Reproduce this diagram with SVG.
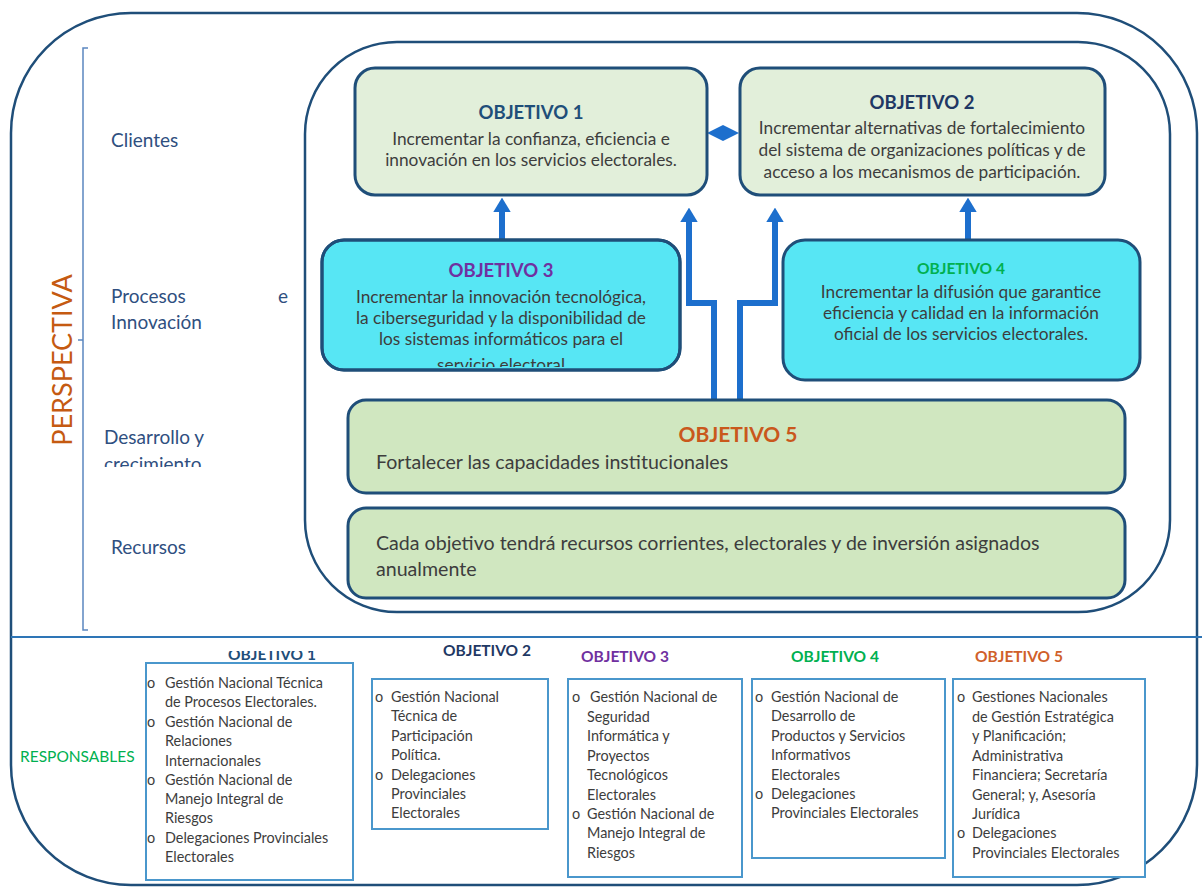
<svg xmlns="http://www.w3.org/2000/svg" width="1202" height="887" viewBox="0 0 1202 887">
<style>
text{font-family:Lato,"Liberation Sans",sans-serif}
.frame{fill:none;stroke:#1f4e79;stroke-width:2.5}
.obj12{fill:#e2efda;stroke:#1f4e79;stroke-width:3}
.obj34{fill:#57e6f4;stroke:#1f4e79;stroke-width:3}
.obj5{fill:#d0e7c0;stroke:#1f4e79;stroke-width:3}
.body{font-size:17.3px;fill:#3d3d3d}
.big{font-size:19.6px;fill:#3d3d3d}
.title{font-size:18.5px;font-weight:bold}
.persp{font-size:19px;fill:#2f4f7f}
.resp{fill:#fff;stroke:#4a97cc;stroke-width:2}
.li{font-size:14.4px;fill:#3d3d3d}
.hd{font-size:15.5px;font-weight:bold}
.conn{fill:none;stroke:#1d6fcd;stroke-width:6}
</style>
<defs>
<marker id="ah" viewBox="0 0 10 10" preserveAspectRatio="none" refX="0" refY="5" markerWidth="2.4" markerHeight="2.9" orient="auto" markerUnits="strokeWidth">
<path d="M0,0 L10,5 L0,10 Z" fill="#1d6fcd"/>
</marker>
<clipPath id="c3"><rect x="322" y="240" width="358" height="127"/></clipPath>
<clipPath id="cdes"><rect x="90" y="420" width="200" height="47"/></clipPath>
<clipPath id="ch1"><rect x="200" y="651" width="150" height="20"/></clipPath>
</defs>

<g id="frame">
<rect class="frame" x="11" y="13" width="1186" height="872" rx="120"/>
<line x1="11" y1="637" x2="1202" y2="637" stroke="#2e75b6" stroke-width="2"/>
<path d="M88,48 H83 V630 H88 M83,340 H78" fill="none" stroke="#5b87c0" stroke-width="1.5"/>
<rect class="frame" x="305" y="42" width="865" height="570" rx="92"/>
</g>

<g id="perspectiva">
<text transform="translate(72,360) rotate(-90)" text-anchor="middle" font-size="27" fill="#c55a11">PERSPECTIVA</text>
<text class="persp" x="111" y="147">Clientes</text>
<text class="persp" x="111" y="303">Procesos</text>
<text class="persp" x="278" y="303">e</text>
<text class="persp" x="111" y="329">Innovación</text>
<text class="persp" x="104" y="444">Desarrollo y</text>
<text class="persp" x="104" y="471" clip-path="url(#cdes)">crecimiento</text>
<text class="persp" x="111" y="554">Recursos</text>
</g>

<g id="connectors">
<line class="conn" x1="502" y1="240" x2="502" y2="212" marker-end="url(#ah)"/>
<line class="conn" x1="968" y1="240" x2="968" y2="212" marker-end="url(#ah)"/>
<path class="conn" d="M714,400 V303 H689 V222" marker-end="url(#ah)"/>
<path class="conn" d="M740,400 V303 H775 V222" marker-end="url(#ah)"/>
<path d="M707,133 L723,125 L739,133 L723,141 Z" fill="#1d6fcd"/>
</g>

<g id="obj1">
<rect class="obj12" x="355" y="68" width="352" height="127" rx="20"/>
<text class="title" x="531" y="119" text-anchor="middle" fill="#1f4e79">OBJETIVO 1</text>
<text class="body" x="531" y="145" text-anchor="middle">Incrementar la confianza, eficiencia e</text>
<text class="body" x="531" y="166" text-anchor="middle">innovación en los servicios electorales.</text>
</g>

<g id="obj2">
<rect class="obj12" x="740" y="68" width="365" height="127" rx="20"/>
<text class="title" x="922" y="109" text-anchor="middle" fill="#1f3864">OBJETIVO 2</text>
<text class="body" x="922" y="134" text-anchor="middle">Incrementar alternativas de fortalecimiento</text>
<text class="body" x="922" y="156" text-anchor="middle">del sistema de organizaciones políticas y de</text>
<text class="body" x="922" y="178" text-anchor="middle">acceso a los mecanismos de participación.</text>
</g>

<g id="obj3">
<rect class="obj34" x="322" y="240" width="358" height="130" rx="22"/>
<g clip-path="url(#c3)">
<text class="title" x="501" y="277" text-anchor="middle" fill="#7030a0">OBJETIVO 3</text>
<text class="body" x="501" y="303" text-anchor="middle">Incrementar la innovación tecnológica,</text>
<text class="body" x="501" y="324" text-anchor="middle">la ciberseguridad y la disponibilidad de</text>
<text class="body" x="501" y="345" text-anchor="middle">los sistemas informáticos para el</text>
<text class="body" x="501" y="371" text-anchor="middle">servicio electoral</text>
</g>
<rect x="322" y="240" width="358" height="130" rx="22" fill="none" stroke="#1f4e79" stroke-width="3"/>
</g>

<g id="obj4">
<rect class="obj34" x="783" y="240" width="357" height="140" rx="22"/>
<text x="961" y="274" text-anchor="middle" font-size="15.5" font-weight="bold" fill="#00b050">OBJETIVO 4</text>
<text class="body" x="961" y="298" text-anchor="middle">Incrementar la difusión que garantice</text>
<text class="body" x="961" y="319" text-anchor="middle">eficiencia y calidad en la información</text>
<text class="body" x="961" y="340" text-anchor="middle">oficial de los servicios electorales.</text>
</g>

<g id="obj5">
<rect class="obj5" x="348" y="400" width="777" height="93" rx="18"/>
<text x="738" y="442" text-anchor="middle" font-size="21" font-weight="bold" fill="#c9581c">OBJETIVO 5</text>
<text class="big" x="376" y="469">Fortalecer las capacidades institucionales</text>
</g>

<g id="recursos">
<rect class="obj5" x="348" y="508" width="777" height="90" rx="18"/>
<text class="big" x="376" y="550">Cada objetivo tendrá recursos corrientes, electorales y de inversión asignados</text>
<text class="big" x="376" y="576">anualmente</text>
</g>

<g id="responsables">
<text x="20" y="762" font-size="15.5" fill="#00b050">RESPONSABLES</text>
</g>

<g id="resp1">
<text class="hd" x="272" y="660" text-anchor="middle" fill="#1f4e79" clip-path="url(#ch1)">OBJETIVO 1</text>
<rect class="resp" x="146" y="663" width="207" height="217"/>
<text class="li" x="147" y="688">o</text><text class="li" x="165" y="688">Gestión Nacional Técnica</text>
<text class="li" x="165" y="707">de Procesos Electorales.</text>
<text class="li" x="147" y="727">o</text><text class="li" x="165" y="727">Gestión Nacional de</text>
<text class="li" x="165" y="746">Relaciones</text>
<text class="li" x="165" y="766">Internacionales</text>
<text class="li" x="147" y="785">o</text><text class="li" x="165" y="785">Gestión Nacional de</text>
<text class="li" x="165" y="804">Manejo Integral de</text>
<text class="li" x="165" y="823">Riesgos</text>
<text class="li" x="147" y="843">o</text><text class="li" x="165" y="843">Delegaciones Provinciales</text>
<text class="li" x="165" y="862">Electorales</text>
</g>

<g id="resp2">
<text class="hd" x="487" y="656" text-anchor="middle" fill="#1f3864">OBJETIVO 2</text>
<rect class="resp" x="372" y="679" width="176" height="150"/>
<text class="li" x="375" y="702">o</text><text class="li" x="391" y="702">Gestión  Nacional</text>
<text class="li" x="391" y="721">Técnica de</text>
<text class="li" x="391" y="741">Participación</text>
<text class="li" x="391" y="760">Política.</text>
<text class="li" x="375" y="780">o</text><text class="li" x="391" y="780">Delegaciones</text>
<text class="li" x="391" y="799">Provinciales</text>
<text class="li" x="391" y="818">Electorales</text>
</g>

<g id="resp3">
<text class="hd" x="625" y="662" text-anchor="middle" fill="#7030a0">OBJETIVO 3</text>
<rect class="resp" x="568" y="679" width="174" height="198"/>
<text class="li" x="572" y="702">o</text><text class="li" x="590" y="702">Gestión Nacional de</text>
<text class="li" x="587" y="722">Seguridad</text>
<text class="li" x="587" y="741">Informática y</text>
<text class="li" x="587" y="761">Proyectos</text>
<text class="li" x="587" y="780">Tecnológicos</text>
<text class="li" x="587" y="800">Electorales</text>
<text class="li" x="572" y="819">o</text><text class="li" x="587" y="819">Gestión Nacional de</text>
<text class="li" x="587" y="838">Manejo Integral de</text>
<text class="li" x="587" y="858">Riesgos</text>
</g>

<g id="resp4">
<text class="hd" x="835" y="662" text-anchor="middle" fill="#00b050">OBJETIVO 4</text>
<rect class="resp" x="752" y="679" width="193" height="179"/>
<text class="li" x="755" y="702">o</text><text class="li" x="771" y="702">Gestión Nacional de</text>
<text class="li" x="771" y="721">Desarrollo de</text>
<text class="li" x="771" y="741">Productos y Servicios</text>
<text class="li" x="771" y="760">Informativos</text>
<text class="li" x="771" y="780">Electorales</text>
<text class="li" x="755" y="799">o</text><text class="li" x="771" y="799">Delegaciones</text>
<text class="li" x="771" y="818">Provinciales Electorales</text>
</g>

<g id="resp5">
<text class="hd" x="1019" y="662" text-anchor="middle" fill="#d0602a">OBJETIVO 5</text>
<rect class="resp" x="953" y="679" width="192" height="198"/>
<text class="li" x="957" y="702">o</text><text class="li" x="972" y="702">Gestiones Nacionales</text>
<text class="li" x="972" y="722">de Gestión Estratégica</text>
<text class="li" x="972" y="741">y Planificación;</text>
<text class="li" x="972" y="761">Administrativa</text>
<text class="li" x="972" y="780">Financiera; Secretaría</text>
<text class="li" x="972" y="800">General; y, Asesoría</text>
<text class="li" x="972" y="819">Jurídica</text>
<text class="li" x="957" y="838">o</text><text class="li" x="972" y="838">Delegaciones</text>
<text class="li" x="972" y="858">Provinciales Electorales</text>
</g>
</svg>
